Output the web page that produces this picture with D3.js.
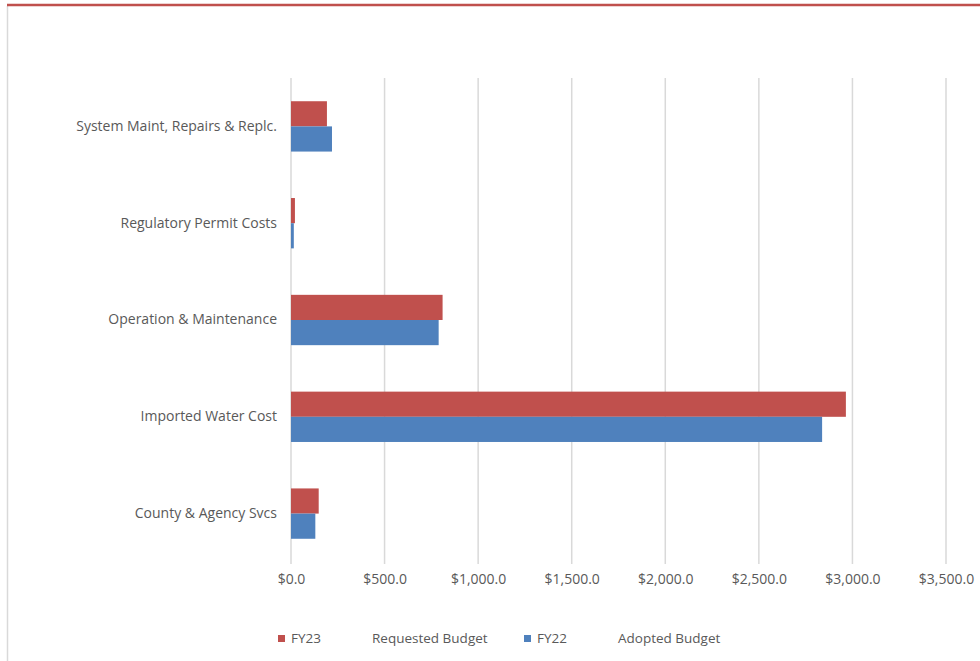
<!DOCTYPE html>
<html><head><meta charset="utf-8">
<script src="https://cdn.jsdelivr.net/npm/d3@7"></script>
<style>
body{margin:0;background:#fff;}
text{font-family:"Open Sans",sans-serif;fill:#595959;}
</style></head>
<body><svg id="c" width="980" height="661"></svg>
<script>
const categories = ["System Maint, Repairs & Replc.","Regulatory Permit Costs","Operation & Maintenance","Imported Water Cost","County & Agency Svcs"];
const fy23 = [192, 21, 810, 2965, 148];
const fy22 = [219, 15, 789, 2838, 130];
const seriesNames = ["FY23","FY22"];
const seriesLabels = ["Requested Budget","Adopted Budget"];
const colors = ["#C0504D","#4F81BD"];
const xTicks = [0,500,1000,1500,2000,2500,3000,3500];

const svg = d3.select("#c");
// frame
svg.append("line").attr("x1",7.5).attr("x2",7.5).attr("y1",6).attr("y2",661).attr("stroke","#D9D9D9").attr("stroke-width",1.5);
svg.append("line").attr("x1",7).attr("x2",980).attr("y1",5).attr("y2",5).attr("stroke","#C0504D").attr("stroke-width",2.5);

const x = d3.scaleLinear().domain([0,3500]).range([291,946]);
const y = d3.scaleBand().domain(categories).range([78,562]).paddingInner(0.48).paddingOuter(0.24);
const ys = d3.scaleBand().domain(seriesNames).range([0,y.bandwidth()]);

// gridlines
svg.append("g").selectAll("line").data(xTicks).join("line")
  .attr("x1",d=>x(d)).attr("x2",d=>x(d)).attr("y1",78).attr("y2",564)
  .attr("stroke","#D9D9D9").attr("stroke-width",1.5);

const data = categories.map((c,i)=>({c, vals:[fy23[i],fy22[i]]}));
const g = svg.append("g").selectAll("g").data(data).join("g").attr("transform",d=>`translate(0,${y(d.c)})`);
g.selectAll("rect").data(d=>d.vals.map((v,j)=>({v,s:seriesNames[j],col:colors[j]}))).join("rect")
  .attr("x",x(0)).attr("y",d=>ys(d.s)).attr("width",d=>x(d.v)-x(0)).attr("height",ys.bandwidth())
  .attr("fill",d=>d.col);

// x axis
const xa = svg.append("g").attr("transform","translate(0,562)")
  .call(d3.axisBottom(x).tickValues(xTicks).tickSize(0).tickPadding(12).tickFormat(d=>"$"+d3.format(",.1f")(d)));
xa.select(".domain").remove();
xa.selectAll("text").style("font-size","14px").style("font-family","'Open Sans',sans-serif").attr("fill","#595959");

// y axis labels
const ya = svg.append("g").attr("transform","translate(291,0)")
  .call(d3.axisLeft(y).tickSize(0).tickPadding(14));
ya.select(".domain").remove();
ya.selectAll("text").style("font-size","14px").style("font-family","'Open Sans',sans-serif").attr("fill","#595959");

// legend
const legX = [278, 524];
const lg = svg.append("g").selectAll("g").data(seriesNames).join("g").attr("transform",(d,i)=>`translate(${legX[i]},635)`);
lg.append("rect").attr("width",7).attr("height",7).attr("fill",(d,i)=>colors[i]);
lg.append("text").attr("x",13).attr("y",8).style("font-size","13.5px").text(d=>d);
lg.append("text").attr("x",94).attr("y",8).style("font-size","13.5px").text((d,i)=>seriesLabels[i]);
</script></body></html>
